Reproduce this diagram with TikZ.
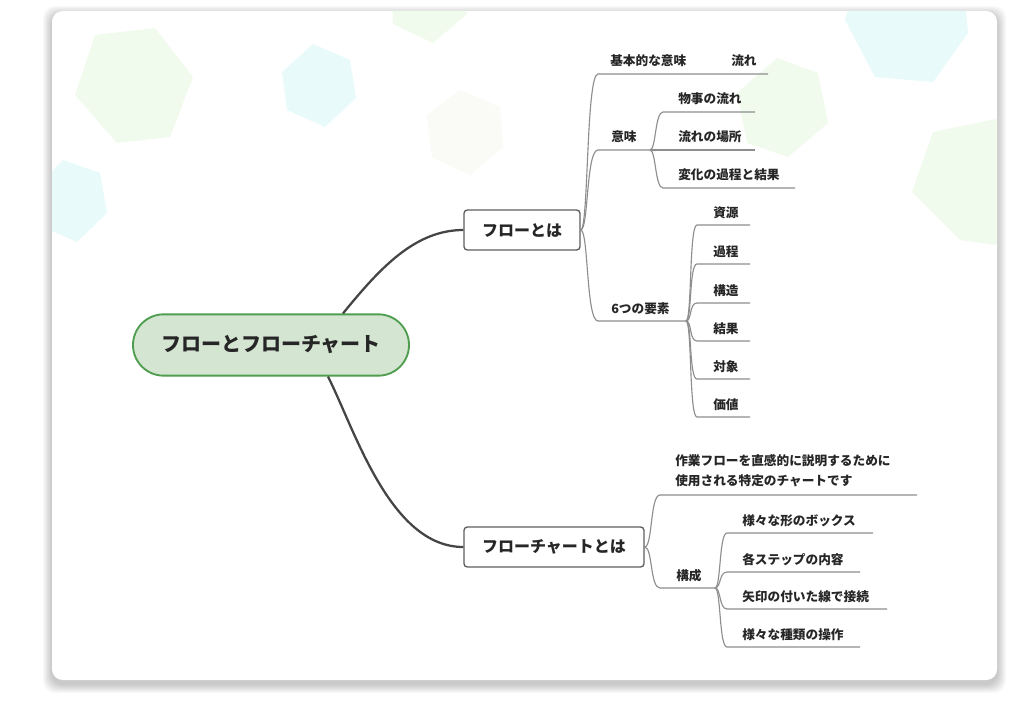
\documentclass[tikz,border=0pt]{standalone}
\usepackage{fontspec}
\usepackage{tikz}
\usepackage{xcolor}
\usetikzlibrary{calc, positioning}
\newfontfamily\jp{Noto Sans CJK JP}

\definecolor{rootfill}{HTML}{D4E5D2}
\definecolor{rootgreen}{HTML}{4F9D4F}
\definecolor{boxgray}{HTML}{5E5E5E}
\definecolor{thinline}{HTML}{8E8E8E}
\definecolor{thickline}{HTML}{454545}
\definecolor{textdark}{HTML}{262626}
\definecolor{hexgreen}{HTML}{F1FBED}
\definecolor{hexcyan}{HTML}{E9FAFA}
\definecolor{hexgray}{HTML}{FAFAF6}

\tikzset{
  root/.style={rounded corners=23pt, draw=rootgreen, line width=1.4pt, fill=rootfill,
    minimum width=207pt, minimum height=46pt, text=textdark,
    font=\jp\bfseries\fontsize{15}{18}\selectfont},
  topic/.style={rounded corners=2.5pt, draw=boxgray, line width=1pt, fill=white,
    minimum height=30pt, text=textdark, font=\jp\bfseries\fontsize{12}{14}\selectfont},
  leaf/.style={anchor=base west, inner sep=0pt, text=textdark,
    font=\jp\bfseries\fontsize{9.5}{15}\selectfont},
  trunk/.style={draw=thickline, line width=1.7pt},
  branch/.style={draw=thinline, line width=0.85pt}
}

\begin{document}
\begin{tikzpicture}[x=0.75pt, y=-0.75pt]
  \useasboundingbox (0,0) rectangle (1024,713);
  \fill[white] (0,0) rectangle (1024,713);

  % card
  \foreach \i in {1,...,9}
    \fill[black, opacity=0.022, rounded corners=9pt] (52-\i,11-\i+4) rectangle (997+\i,680+\i+4);
  \fill[white, rounded corners=8pt] (52,11) rectangle (997,680);

  \begin{scope}
    \clip[rounded corners=8pt] (52,11) rectangle (997,680);
    \fill[hexgreen] (95,35) -- (155,28) -- (193,77) -- (170,137) -- (117,143) -- (75,95) -- cycle;
    \fill[hexcyan] (313,44) -- (350,60) -- (356,98) -- (325,127) -- (287,110) -- (282,72) -- cycle;
    \fill[hexgreen] (392,0) -- (468,0) -- (466,15) -- (433,43) -- (393,24) -- cycle;
    \fill[hexgray] (460,90) -- (500,107) -- (503,147) -- (470,175) -- (432,157) -- (427,115) -- cycle;
    \fill[hexcyan] (63,160) -- (100,173) -- (107,213) -- (77,242) -- (45,228) -- (38,185) -- cycle;
    \fill[hexcyan] (850,0) -- (965,0) -- (968,33) -- (933,82) -- (875,77) -- (845,20) -- cycle;
    \fill[hexgreen] (777,58) -- (818,73) -- (828,123) -- (788,157) -- (747,143) -- (737,93) -- cycle;
    \fill[hexgreen] (933,132) -- (1000,118) -- (1030,185) -- (995,245) -- (960,240) -- (912,192) -- cycle;
  \end{scope}

  \node[root] (A) at (271,345) {フローとフローチャート};
  \node[topic, minimum width=87pt] (B) at (522,230) {フローとは};
  \node[topic, minimum width=135pt] (C) at (554,547) {フローチャートとは};

  \draw[trunk] ($(A.north)+(72,0)$) .. controls (380,268) and (415,230) .. (B.west);
  \draw[trunk] ($(A.south)+(57,0)$) .. controls (355,430) and (390,547) .. (C.west);

  % フローとは
  \coordinate (B1) at (598,74);
  \coordinate (B1r) at (703,74);
  \coordinate (B1s) at (768,74);
  \node[leaf] (B1t) at (610,66) {基本的な意味};
  \node[leaf] (B1c) at (731,66) {流れ};
  \draw[branch] (B.east) .. controls +(8,0) and +(-12,0) .. (B1) -- (B1r) -- (B1s);

  \coordinate (B2) at (598,150);
  \coordinate (B2r) at (650,150);
  \node[leaf] (B2t) at (611,142) {意味};
  \draw[branch] (B.east) .. controls +(8,0) and +(-12,0) .. (B2) -- (B2r);
  \foreach \n/\y/\t/\w in {a/112/物事の流れ/755, b/150/流れの場所/755, c/188/変化の過程と結果/795} {
    \coordinate (B2\n) at (663,\y);
    \coordinate (B2\n end) at (\w,\y);
    \node[leaf] (B2\n t) at (678,\y-8) {\t};
    \draw[branch] (B2r) .. controls +(6,0) and +(-8,0) .. (B2\n) -- (B2\n end);
  }

  \coordinate (B3) at (598,321);
  \coordinate (B3r) at (686,321);
  \node[leaf] (B3t) at (611,313) {6つの要素};
  \draw[branch] (B.east) .. controls +(8,0) and +(-12,0) .. (B3) -- (B3r);
  \foreach \n/\y/\t in {a/225/資源, b/264/過程, c/303/構造, d/341/結果, e/379/対象, f/417/価値} {
    \coordinate (B3\n) at (697,\y);
    \coordinate (B3\n end) at (750,\y);
    \node[leaf] (B3\n t) at (713,\y-8) {\t};
    \draw[branch] (B3r) .. controls +(6,0) and +(-8,0) .. (B3\n) -- (B3\n end);
  }

  % フローチャートとは
  \coordinate (C1) at (660,495);
  \coordinate (C1r) at (917,495);
  \node[leaf, anchor=north west, align=left] (C1t) at (675,454) {作業フローを直感的に説明するために\\使用される特定のチャートです};
  \draw[branch] (C.east) .. controls +(8,0) and +(-10,0) .. (C1) -- (C1r);

  \coordinate (C2) at (660,588);
  \coordinate (C2r) at (715,588);
  \node[leaf] (C2t) at (676,580) {構成};
  \draw[branch] (C.east) .. controls +(8,0) and +(-10,0) .. (C2) -- (C2r);
  \foreach \n/\y/\t/\w in {a/533/様々な形のボックス/873, b/572/各ステップの内容/860, c/609/矢印の付いた線で接続/887, d/647/様々な種類の操作/860} {
    \coordinate (C2\n) at (727,\y);
    \coordinate (C2\n end) at (\w,\y);
    \node[leaf] (C2\n t) at (742,\y-8) {\t};
    \draw[branch] (C2r) .. controls +(6,0) and +(-8,0) .. (C2\n) -- (C2\n end);
  }
\end{tikzpicture}
\end{document}
